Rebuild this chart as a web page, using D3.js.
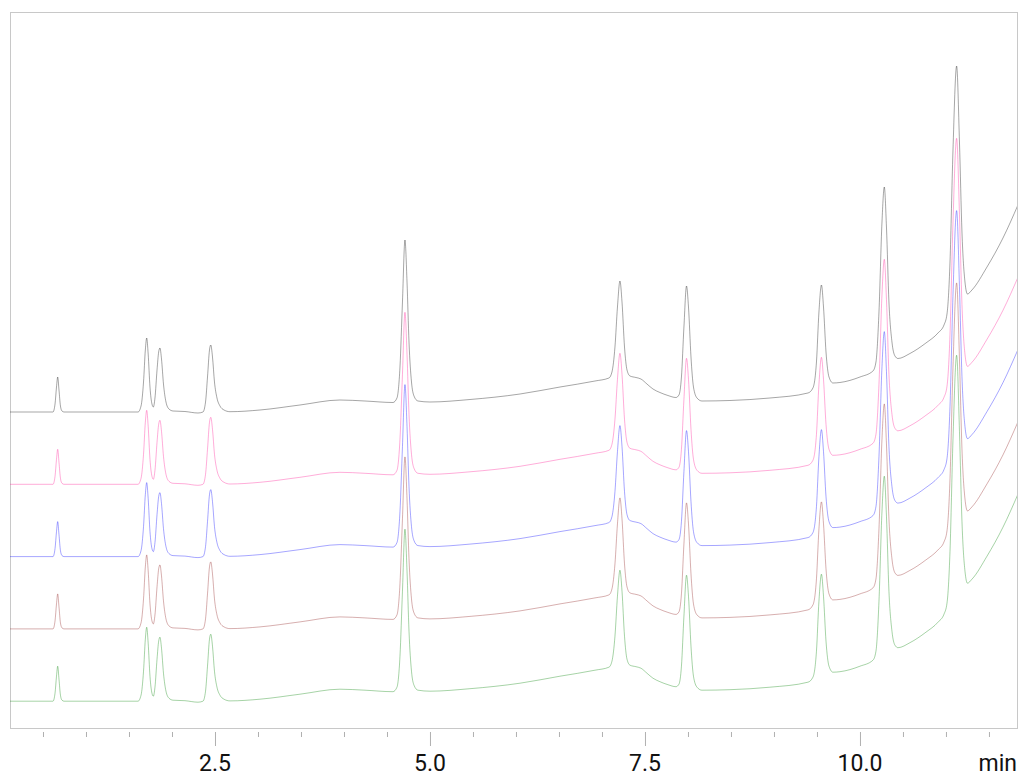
<!DOCTYPE html>
<html>
<head>
<meta charset="utf-8">
<script src="https://cdn.jsdelivr.net/npm/d3@7"></script>
<style>
  body { margin: 0; background: #fff; }
  .tick-label { font-family: Roboto, "Liberation Sans", sans-serif; font-size: 23px; fill: #111; }
</style>
</head>
<body>
<div id="chart"></div>
<script>
var svgWidth = 1021;
var svgHeight = 779;

// retention time window shown (min) and signal window (mV)
var timeRange = [0.1163, 11.826];
var signalRange = [-316, 400];

// retention time (min) of each sampled point of the chromatogram
var times = [
  0.116, 0.465, 0.616, 0.640, 0.657, 0.671, 0.686, 0.703, 0.721, 0.744,
  1.163, 1.605, 1.640, 1.669, 1.690, 1.706, 1.723, 1.744, 1.767, 1.783,
  1.802, 1.826, 1.845, 1.860, 1.878, 1.901, 1.930, 1.965, 2.012, 2.151,
  2.302, 2.360, 2.390, 2.413, 2.436, 2.451, 2.471, 2.494, 2.523, 2.558,
  2.605, 2.674, 3.023, 3.488, 3.953, 4.244, 4.570, 4.616, 4.651, 4.680,
  4.709, 4.733, 4.756, 4.785, 4.814, 4.860, 5.000, 5.465, 6.047, 6.512,
  6.919, 7.081, 7.116, 7.151, 7.180, 7.209, 7.233, 7.262, 7.291, 7.326,
  7.395, 7.453, 7.523, 7.593, 7.674, 7.767, 7.860, 7.895, 7.924, 7.953,
  7.983, 8.006, 8.035, 8.064, 8.105, 8.163, 8.488, 8.953, 9.395, 9.453,
  9.494, 9.523, 9.552, 9.576, 9.605, 9.640, 9.686, 9.767, 10.000, 10.151,
  10.186, 10.221, 10.256, 10.283, 10.308, 10.337, 10.372, 10.407, 10.442, 10.581,
  10.767, 10.907, 10.977, 11.012, 11.047, 11.081, 11.124, 11.157, 11.186, 11.221,
  11.250, 11.302, 11.477, 11.663, 11.837
];

// detector signal (mV) at those times
var signal = [
  0, 0, 0, 8, 25, 35, 22, 6, 1, 0,
  0, 0, 6, 30, 62, 74, 58, 25, 8, 5,
  14, 42, 60, 64, 53, 28, 10, 3, 1, 0.5,
  -1, 0, 10, 35, 62, 67, 55, 30, 14, 6,
  2, 0.3, 2, 7, 12, 11, 9.5, 14, 45, 110,
  172, 130, 70, 30, 16, 11, 10, 12.5, 18, 25,
  31, 34, 40, 65, 105, 131, 110, 65, 42, 36,
  34.5, 33, 28, 23, 19.5, 16.5, 14.5, 17, 35, 85,
  126, 105, 55, 25, 14, 11, 11.5, 14, 19, 24,
  50, 100, 127, 105, 60, 35, 29, 29.5, 35, 41,
  50, 100, 190, 225, 185, 110, 70, 56, 53.5, 58.5,
  69, 79, 87, 98, 150, 260, 346, 270, 180, 130,
  118, 122, 145, 174, 207
];

// the five overlaid runs, top to bottom
var runs = ["Ch1", "Ch2", "Ch3", "Ch4", "Ch5"];
var runColors = ["#000000", "#ff1493", "#0000ff", "#8b1a1a", "#008000"];
var runOffset = 72.3;

// axis ticks
var minorTicks = d3.range(0.5, 11.6, 0.5);
var majorTicks = [2.5, 5.0, 7.5, 10.0];

var svg = d3.select("#chart")
  .append("svg")
  .attr("width", svgWidth)
  .attr("height", svgHeight);

var plot = { left: 10, right: 1017, top: 12, bottom: 728 };

var xScale = d3.scaleLinear()
  .domain(timeRange)
  .range([plot.left, plot.right]);

var yScale = d3.scaleLinear()
  .domain(signalRange)
  .range([plot.bottom, plot.top]);

// plot frame
svg.append("rect")
  .attr("x", plot.left + 0.5)
  .attr("y", plot.top + 0.5)
  .attr("width", plot.right - plot.left)
  .attr("height", plot.bottom - plot.top)
  .attr("fill", "none")
  .attr("stroke", "#c8c8c8")
  .attr("stroke-width", 1);

svg.append("defs").append("clipPath")
  .attr("id", "plot-clip")
  .append("rect")
  .attr("x", plot.left)
  .attr("y", plot.top)
  .attr("width", plot.right - plot.left)
  .attr("height", plot.bottom - plot.top);

// chromatogram traces, drawn bottom run first
var points = times.map(function(t, i) { return [t, signal[i]]; });

var traces = svg.append("g").attr("clip-path", "url(#plot-clip)");

runs.slice().reverse().forEach(function(run) {
  var k = runs.indexOf(run);
  var line = d3.line()
    .x(d => xScale(d[0]))
    .y(d => yScale(d[1] - k * runOffset))
    .curve(d3.curveMonotoneX);

  traces.append("path")
    .datum(points)
    .attr("d", line)
    .attr("fill", "none")
    .attr("stroke", runColors[k])
    .attr("stroke-opacity", 0.5)
    .attr("stroke-width", 0.7);
});

// bottom axis: short minor ticks, longer ticks at labelled values
var axisG = svg.append("g")
  .attr("transform", `translate(0, ${plot.bottom + 4})`);

axisG.call(d3.axisBottom(xScale)
  .tickValues(minorTicks)
  .tickSize(5)
  .tickFormat(""));

axisG.select(".domain").remove();
axisG.selectAll(".tick line")
  .attr("stroke", "#b0b0b0")
  .attr("y2", d => majorTicks.indexOf(d) >= 0 ? 14 : 5);

svg.selectAll(".tick-label")
  .data(majorTicks)
  .enter()
  .append("text")
  .attr("class", "tick-label")
  .attr("x", d => xScale(d))
  .attr("y", 771)
  .attr("text-anchor", "middle")
  .text(d => d.toFixed(1));

svg.append("text")
  .attr("class", "tick-label")
  .attr("x", plot.right)
  .attr("y", 771)
  .attr("text-anchor", "end")
  .text("min");
</script>
</body>
</html>
